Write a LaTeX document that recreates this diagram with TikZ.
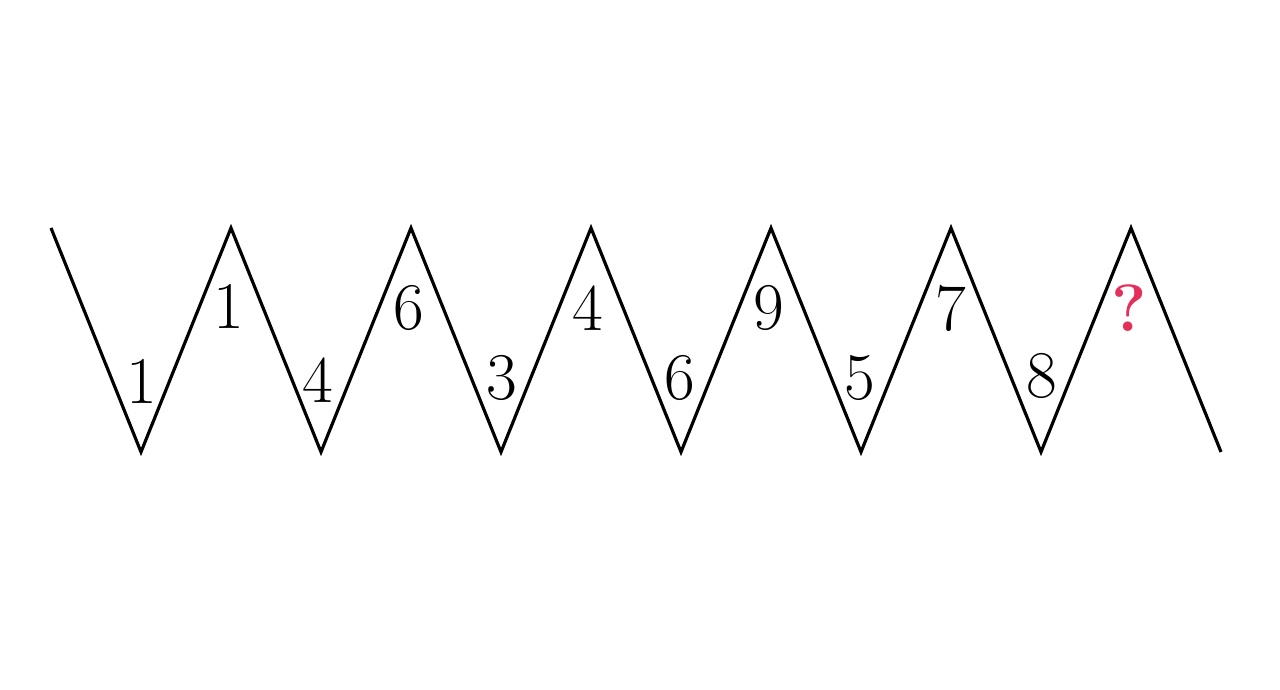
\documentclass[tikz,border=0pt]{standalone}
\usepackage{xcolor}
\usepackage{tikz}
\usetikzlibrary{calc}
\definecolor{Ask}{HTML}{E3305A}
\tikzset{
  zig/.style={draw=black, line width=1.8pt, line join=miter},
  num/.style={font=\fontsize{38}{44}\selectfont, inner sep=0pt}
}
\begin{document}
\begin{tikzpicture}[x=0.02cm,y=0.02cm]
  \useasboundingbox (0,0) rectangle (1280,689);
  % peaks and valleys of the zigzag
  \foreach \i in {0,...,6}{
    \coordinate (T\i) at (51+180*\i,461);
    \coordinate (B\i) at (141+180*\i,237);
  }
  \draw[zig] (T0)--(B0)--(T1)--(B1)--(T2)--(B2)--(T3)--(B3)--(T4)--(B4)--(T5)--(B5)--(T6)--(B6);
  % numbers in the valleys
  \foreach \v/\n/\dx/\dy in {0/1/1/71,1/4/-3/72,2/3/1/74,3/6/-1/74,4/5/-1/74,5/8/1/76}{
    \node[num] (v\v) at ($(B\v)+(\dx,\dy)$) {\n};
  }
  % numbers under the peaks
  \foreach \p/\n/\dx/\dy in {1/1/-2/-78,2/6/-2/-80,3/4/-3/-80,4/9/-2/-80,5/7/0/-80}{
    \node[num] (p\p) at ($(T\p)+(\dx,\dy)$) {\n};
  }
  \node[num,text=Ask,font=\fontsize{38}{44}\selectfont\bfseries] (p6) at ($(T6)+(-2,-80)$) {?};
\end{tikzpicture}
\end{document}
